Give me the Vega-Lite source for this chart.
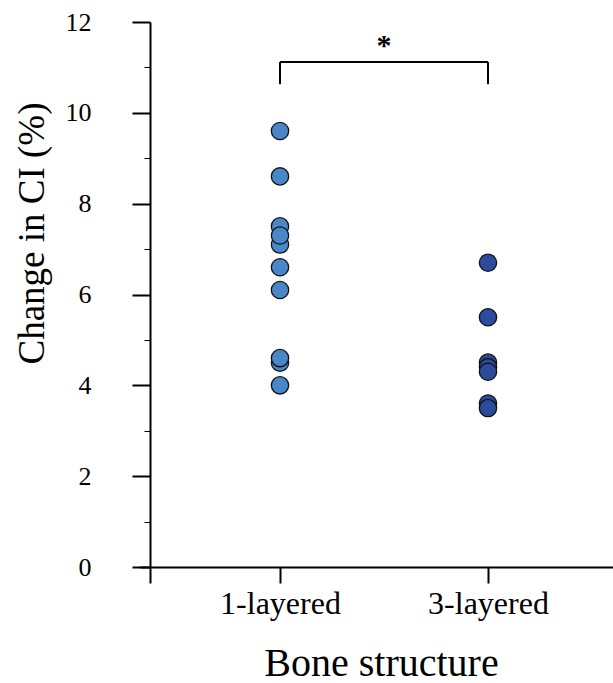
{
  "$schema": "https://vega.github.io/schema/vega-lite/v6.json",
  "width": 473,
  "height": 561,
  "autosize": {"type": "none"},
  "padding": {"left": 140, "top": 22, "right": 0, "bottom": 100},
  "background": "white",
  "config": {
    "view": {"stroke": null},
    "font": "Liberation Serif",
    "axis": {"grid": false, "domainColor": "black", "tickColor": "black", "labelColor": "black", "titleColor": "black", "labelFont": "Liberation Serif", "titleFont": "Liberation Serif", "titleFontWeight": "normal"}
  },
  "datasets": {
    "pts": [
      {"group": "1-layered", "pos": 1, "value": 9.6},
      {"group": "1-layered", "pos": 1, "value": 8.6},
      {"group": "1-layered", "pos": 1, "value": 7.5},
      {"group": "1-layered", "pos": 1, "value": 7.1},
      {"group": "1-layered", "pos": 1, "value": 7.3},
      {"group": "1-layered", "pos": 1, "value": 6.6},
      {"group": "1-layered", "pos": 1, "value": 6.1},
      {"group": "1-layered", "pos": 1, "value": 4.5},
      {"group": "1-layered", "pos": 1, "value": 4.6},
      {"group": "1-layered", "pos": 1, "value": 4.0},
      {"group": "3-layered", "pos": 2, "value": 6.7},
      {"group": "3-layered", "pos": 2, "value": 5.5},
      {"group": "3-layered", "pos": 2, "value": 4.5},
      {"group": "3-layered", "pos": 2, "value": 4.4},
      {"group": "3-layered", "pos": 2, "value": 4.3},
      {"group": "3-layered", "pos": 2, "value": 3.6},
      {"group": "3-layered", "pos": 2, "value": 3.5}
    ],
    "bracket": [
      {"x": 1, "x2": 2, "y": 11.12, "y2": 11.12},
      {"x": 1, "x2": 1, "y": 11.12, "y2": 10.63},
      {"x": 2, "x2": 2, "y": 11.12, "y2": 10.63}
    ],
    "star": [
      {"x": 1.5, "y": 11.28, "label": "*"}
    ]
  },
  "layer": [
    {
      "data": {"name": "bracket"},
      "mark": {"type": "rule", "color": "black", "strokeWidth": 2},
      "encoding": {
        "x": {"field": "x", "type": "quantitative", "scale": {"domain": [0.3269, 2.601], "nice": false, "zero": false}},
        "x2": {"field": "x2"},
        "y": {"field": "y", "type": "quantitative", "scale": {"domain": [-0.352, 12], "nice": false, "zero": false}},
        "y2": {"field": "y2"}
      }
    },
    {
      "data": {"name": "star"},
      "mark": {"type": "text", "fontSize": 30, "fontWeight": "bold", "baseline": "alphabetic", "align": "center", "color": "black", "font": "Liberation Serif"},
      "encoding": {
        "x": {"field": "x", "type": "quantitative"},
        "y": {"field": "y", "type": "quantitative"},
        "text": {"field": "label"}
      }
    },
    {
      "data": {"name": "pts"},
      "mark": {"type": "point", "shape": "circle", "filled": true, "size": 300, "opacity": 1, "stroke": "#111111", "strokeWidth": 1.3},
      "encoding": {
        "x": {"field": "pos", "type": "quantitative",
          "axis": {"orient": "bottom", "offset": -16, "values": [1, 2], "labelExpr": "datum.value == 1 ? '1-layered' : '3-layered'", "domainWidth": 2, "tickWidth": 2, "tickSize": 16, "labelFontSize": 32, "labelPadding": 5, "title": "Bone structure", "titleFontSize": 40, "titleBaseline": "alphabetic", "titleX": 241, "titleY": 108, "titleAlign": "center"}},
        "y": {"field": "value", "type": "quantitative",
          "axis": {"orient": "left", "offset": -10, "values": [0, 1, 2, 3, 4, 5, 6, 7, 8, 9, 10, 11, 12], "labelExpr": "datum.value % 2 == 0 ? datum.label : ''", "domainWidth": 2, "tickWidth": {"condition": {"test": "datum.value % 2 == 1", "value": 1}, "value": 2}, "tickSize": {"condition": {"test": "datum.value % 2 == 1", "value": 6}, "value": 18}, "labelFontSize": 26, "labelPadding": 41, "title": "Change in CI (%)", "titleFontSize": 37, "titleBaseline": "alphabetic", "titleAngle": 270, "titleX": -107, "titleY": 211, "titleAlign": "center"}},
        "fill": {"field": "group", "type": "nominal", "scale": {"domain": ["1-layered", "3-layered"], "range": ["#4a87c8", "#2c4b9c"]}, "legend": null}
      }
    }
  ]
}
